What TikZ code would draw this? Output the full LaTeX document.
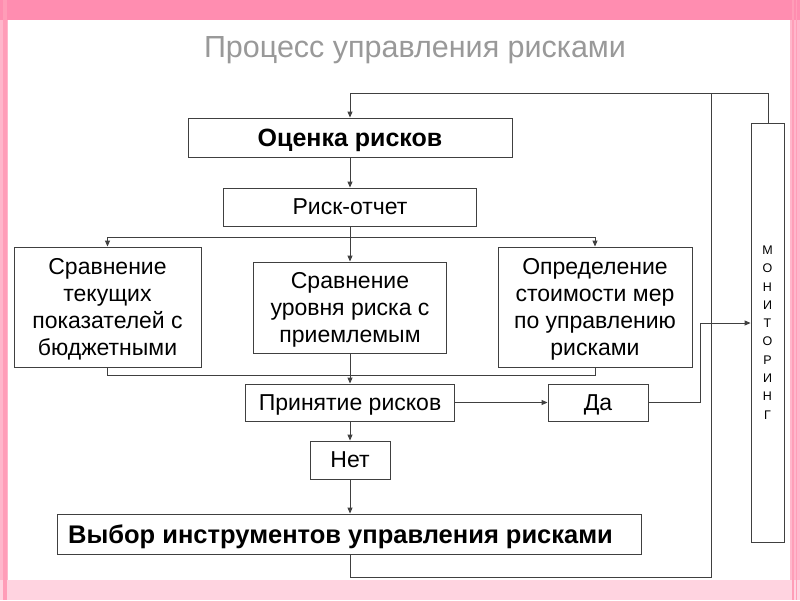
\documentclass[tikz,border=0pt]{standalone}
\usepackage{fontspec}
\setmainfont{Liberation Sans}
\usetikzlibrary{arrows.meta}
\definecolor{pinktop}{HTML}{FF8DB0}
\definecolor{pinkbot}{HTML}{FFD3E0}
\definecolor{pinkside}{HTML}{FFB6CB}
\definecolor{pinkstripe}{HTML}{FF9DB8}
\definecolor{titlegray}{HTML}{999999}
\definecolor{linegray}{HTML}{404040}
\tikzset{
  box/.style={draw=linegray, line width=0.9pt, fill=white, inner sep=0pt, align=center,
    text depth=0pt, font=\fontsize{23}{26.7}\selectfont},
  conn/.style={draw=linegray, line width=0.9pt},
  arr/.style={conn, -{Triangle[length=6pt,width=5pt]}}
}
\begin{document}
\begin{tikzpicture}[x=1pt,y=-1pt]
% background
\useasboundingbox (0,0) rectangle (800,600);
\fill[pinkside] (0,0) rectangle (800,600);
\fill[pinktop] (0,0) rectangle (800,20);
\fill[pinkbot] (0,580) rectangle (800,600);
\fill[pinkstripe] (3,0) rectangle (7,600);
\fill[pinkstripe] (792,0) rectangle (794,600);
\fill[pinkstripe] (796,0) rectangle (797,600);
\fill[white] (8,20) rectangle (790,580);

% title
\node[text=titlegray, text depth=0pt, font=\fontsize{30.5}{34}\selectfont] (title) at (415,47) {Процесс управления рисками};

% nodes
\node[box, minimum width=324pt, minimum height=39pt, font=\fontsize{25}{28}\selectfont\bfseries] (ocenka) at (350,137.5) {Оценка рисков};
\node[box, minimum width=253pt, minimum height=38pt] (otchet) at (350,207) {Риск-отчет};
\node[box, minimum width=187pt, minimum height=120pt] (left) at (107.5,307) {Сравнение\\текущих\\показателей с\\бюджетными};
\node[box, minimum width=193pt, minimum height=91pt] (mid) at (350,307.5) {Сравнение\\уровня риска с\\приемлемым};
\node[box, minimum width=194pt, minimum height=120pt] (right) at (595,307) {Определение\\стоимости мер\\по управлению\\рисками};
\node[box, minimum width=209pt, minimum height=37pt] (prin) at (350,402.5) {Принятие рисков};
\node[box, minimum width=100pt, minimum height=37pt] (da) at (598,402.5) {Да};
\node[box, minimum width=80pt, minimum height=38pt] (net) at (350,460) {Нет};
\node[box, minimum width=584pt, minimum height=40pt] (vybor) at (349,534) {};
\node[font=\fontsize{25.5}{28}\selectfont\bfseries, anchor=base west, inner sep=0pt] (vyborText) at (68,543.5) {Выбор инструментов управления рисками};
\node[box, minimum width=33pt, minimum height=419pt, font=\fontsize{12.5}{18.3}\selectfont] (mon) at (767.5,332.5) {М\\О\\Н\\И\\Т\\О\\Р\\И\\Н\\Г};

% coordinates
\coordinate (loopTop) at (350,93);
\coordinate (loopTR) at (711,93);
\coordinate (loopBR) at (711,577);
\coordinate (loopBL) at (350,577);
\coordinate (monTop) at (768,93);
\coordinate (split) at (350,237);
\coordinate (splitL) at (107.5,237);
\coordinate (splitR) at (595,237);
\coordinate (joinL) at (107.5,375);
\coordinate (joinR) at (595,375);
\coordinate (daR) at (700,402.5);
\coordinate (daUp) at (700,323);

% connectors
\draw[arr] (vybor.south -| loopBL) -- (loopBL) -- (loopBR) -- (loopTR) -- (loopTop) -- (ocenka.north);
\draw[conn] (loopTR) -- (monTop) -- (mon.north -| monTop);
\draw[arr] (ocenka.south) -- (otchet.north);
\draw[conn] (otchet.south) -- (split);
\draw[conn] (splitL) -- (splitR);
\draw[arr] (splitL) -- (left.north);
\draw[arr] (split) -- (mid.north);
\draw[arr] (splitR) -- (right.north);
\draw[conn] (left.south) -- (joinL) -- (joinR) -- (right.south);
\draw[arr] (mid.south) -- (prin.north);
\draw[arr] (prin.east) -- (da.west);
\draw[arr] (prin.south) -- (net.north);
\draw[arr] (net.south) -- (vybor.north -| net.south);
\draw[arr] (da.east) -- (daR) -- (daUp) -- (mon.west |- daUp);
\end{tikzpicture}
\end{document}
